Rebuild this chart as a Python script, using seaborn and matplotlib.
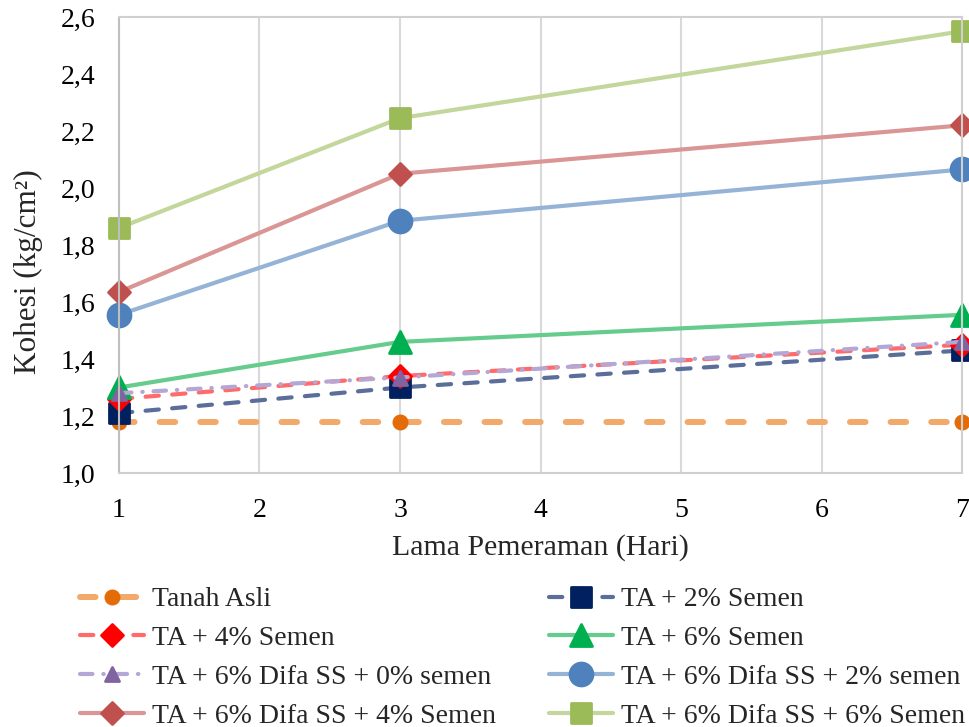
import matplotlib
matplotlib.use("Agg")
import matplotlib.pyplot as plt
from matplotlib.markers import MarkerStyle
from matplotlib.ticker import FuncFormatter, MultipleLocator
import seaborn as sns
import pandas as pd

# Curing time (days)
hari = [1, 3, 7]

# Cohesion (kg/cm2) per mixture
tanah_asli = [1.18, 1.18, 1.18]
ta_2_semen = [1.21, 1.30, 1.43]
ta_4_semen = [1.26, 1.34, 1.45]
ta_6_semen = [1.30, 1.46, 1.555]
difa_0_semen = [1.28, 1.335, 1.46]
difa_2_semen = [1.555, 1.885, 2.065]
difa_4_semen = [1.635, 2.05, 2.22]
difa_6_semen = [1.86, 2.245, 2.55]

labels = [
    "Tanah Asli",
    "TA + 2% Semen",
    "TA + 4% Semen",
    "TA + 6% Semen",
    "TA + 6% Difa SS + 0% semen",
    "TA + 6% Difa SS + 2% semen",
    "TA + 6% Difa SS + 4% Semen",
    "TA + 6% Difa SS + 6% Semen",
]
series = [tanah_asli, ta_2_semen, ta_4_semen, ta_6_semen,
          difa_0_semen, difa_2_semen, difa_4_semen, difa_6_semen]

# line colour, marker colour, marker, marker size, line width, line style
styles = [
    ("#F2A96A", "#E36C09", "o", 9.5, 4.3, (0, (2.6, 4.2))),
    ("#5B6E99", "#002060", "s", 14.5, 3.0, (0, (3.2, 3.2))),
    ("#FF6B6B", "#FF0000", "D", 11.5, 3.0, (0, (3.2, 3.2))),
    ("#66CC8E", "#00B050", "^", 15.5, 3.0, "-"),
    ("#B4A7D6", "#8064A2", "^", 9.5, 3.0, (0, (3.0, 2.6, 0.1, 2.6))),
    ("#95B3D7", "#4F81BD", "o", 16.5, 3.0, "-"),
    ("#D99694", "#C0504D", "D", 11.5, 3.0, "-"),
    ("#C3D69B", "#9BBB59", "s", 14.5, 3.0, "-"),
]

sns.set_theme(style="white")
plt.rcParams["font.family"] = ["Liberation Serif", "DejaVu Serif"]

fig = plt.figure(figsize=(9.69, 7.27), dpi=100)
ax = fig.add_axes([0.1228, 0.3494, 0.8700, 0.6272])

handles = []
for lab, vals, (lc, mc, mk, ms, lw, ls) in zip(labels, series, styles):
    df = pd.DataFrame({"Hari": hari, "Kohesi": vals})
    sns.lineplot(data=df, x="Hari", y="Kohesi", ax=ax, color=lc,
                 linestyle=ls, linewidth=lw, dash_capstyle="round",
                 solid_capstyle="round",
                 marker=MarkerStyle(mk, joinstyle="round"), markersize=ms,
                 markerfacecolor=mc, markeredgecolor=mc, markeredgewidth=2.0,
                 clip_on=False, label=lab, legend=False)
    handles.append(ax.lines[-1])

ax.set_xlim(1, 7)
ax.set_ylim(1.0, 2.6)
ax.xaxis.set_major_locator(MultipleLocator(1))
ax.yaxis.set_major_locator(MultipleLocator(0.2))
ax.yaxis.set_major_formatter(FuncFormatter(lambda v, p: f"{v:.1f}".replace(".", ",")))
ax.tick_params(axis="both", labelsize=20, colors="black", length=0)
ax.tick_params(axis="x", pad=18)
ax.tick_params(axis="y", pad=17)

ax.grid(axis="x", color="#D9D9D9", linewidth=1.5)
ax.grid(axis="y", visible=False)
for sp in ax.spines.values():
    sp.set_color("#D0D0D0")
    sp.set_linewidth(1.5)
ax.spines["left"].set_color("#BFBFBF")

ax.set_xlabel("Lama Pemeraman (Hari)", fontsize=21.5, labelpad=8)
ax.set_ylabel("Kohesi (kg/cm²)", fontsize=22.5)
ax.yaxis.set_label_coords(-0.0902, 0.441)

order = [0, 2, 4, 6, 1, 3, 5, 7]
leg = fig.legend([handles[i] for i in order], [labels[i] for i in order],
                 ncol=2, loc="upper left", bbox_to_anchor=(0.0566, 0.227),
                 frameon=False, fontsize=20, handlelength=2.3,
                 columnspacing=1.9, labelspacing=0.48, handletextpad=0.3)

fig.savefig("out.png", dpi=100)
